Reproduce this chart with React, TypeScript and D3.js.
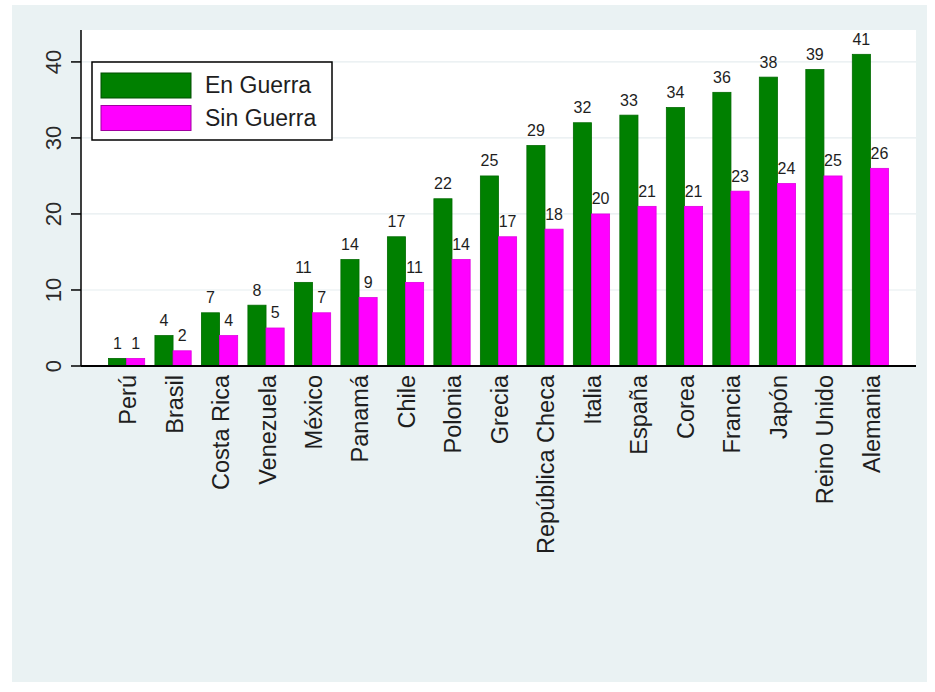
import React from "react";
import * as d3 from "d3";

const categories = ["Perú","Brasil","Costa Rica","Venezuela","México","Panamá","Chile","Polonia","Grecia","República Checa","Italia","España","Corea","Francia","Japón","Reino Unido","Alemania"];
const enGuerra = [1,4,7,8,11,14,17,22,25,29,32,33,34,36,38,39,41];
const sinGuerra = [1,2,4,5,7,9,11,14,17,18,20,21,21,23,24,25,26];
const seriesNames = ["En Guerra","Sin Guerra"];
const seriesColors = ["#008000","#ff00ff"];
const yTicks = [0,10,20,30,40];

const W = 935, H = 692;
const plotL = 81, plotR = 916, plotT = 30, plotB = 366;
const FONT = "'Liberation Sans', Arial, Helvetica, sans-serif";

export default function App() {
  const x = d3.scaleBand<string>().domain(categories).range([plotL, plotR]).paddingInner(0.22).paddingOuter(0.59);
  const xs = d3.scaleBand<string>().domain(seriesNames).range([0, x.bandwidth()]).padding(0);
  const y = d3.scaleLinear().domain([0, 44.2]).range([plotB, plotT]);
  const data = [enGuerra, sinGuerra];

  return (
    <svg width={W} height={H} style={{ position: "absolute", left: 0, top: 0 }} fontFamily={FONT}>
      <rect x={0} y={0} width={W} height={H} fill="#ffffff" />
      <rect x={12} y={5} width={915} height={677} fill="#eaf2f3" />
      <rect x={plotL} y={plotT} width={plotR - plotL} height={plotB - plotT} fill="#ffffff" />
      {yTicks.filter(t => t > 0).map(t => (
        <line key={"g" + t} x1={plotL} x2={plotR} y1={y(t)} y2={y(t)} stroke="#e6edef" strokeWidth={1.2} />
      ))}
      {data.map((vals, si) =>
        categories.map((c, i) => {
          const bx = (x(c) as number) + (xs(seriesNames[si]) as number);
          const bw = xs.bandwidth();
          return (
            <g key={si + "-" + i}>
              <rect x={bx} y={y(vals[i])} width={bw} height={y(0) - y(vals[i])} fill={seriesColors[si]}
                stroke={si === 0 ? "#006a00" : "#e000e0"} strokeWidth={0.8} />
              <text x={bx + bw / 2} y={y(vals[i]) - 9.5} textAnchor="middle" fontSize={16} fill="#1e1e1e">{vals[i]}</text>
            </g>
          );
        })
      )}
      {/* y axis */}
      <line x1={plotL} x2={plotL} y1={plotT} y2={plotB} stroke="#000" strokeWidth={1.5} />
      {yTicks.map(t => (
        <g key={"t" + t}>
          <line x1={plotL - 10} x2={plotL} y1={y(t)} y2={y(t)} stroke="#000" strokeWidth={1.5} />
          <text transform={`translate(53.5,${y(t)}) rotate(-90)`} textAnchor="middle" dy="0.36em" fontSize={22} fill="#2a2a2a">{t}</text>
        </g>
      ))}
      {/* x axis */}
      <line x1={plotL} x2={plotR} y1={plotB} y2={plotB} stroke="#000" strokeWidth={1.8} />
      {categories.map(c => (
        <text key={"c" + c} transform={`translate(${(x(c) as number) + x.bandwidth() / 2 + 1},375) rotate(-90)`} textAnchor="end" dy="0.36em" fontSize={23.5} fill="#1e1e1e">{c}</text>
      ))}
      {/* legend */}
      <rect x={92} y={62} width={240} height={78} fill="#ffffff" stroke="#000" strokeWidth={1.5} />
      {seriesNames.map((s, i) => (
        <g key={"l" + s}>
          <rect x={101} y={73 + i * 32.5} width={90} height={25} fill={seriesColors[i]} stroke={i === 0 ? "#004d00" : "#a000a0"} strokeWidth={1} />
          <text x={205} y={93 + i * 33} fontSize={23} fill="#1e1e1e">{s}</text>
        </g>
      ))}
    </svg>
  );
}
